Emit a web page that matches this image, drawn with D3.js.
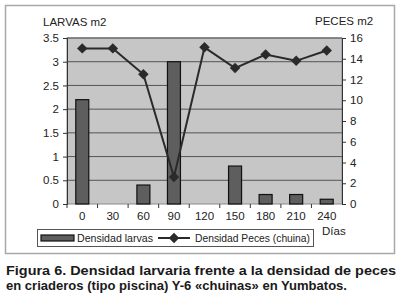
<!DOCTYPE html>
<html>
<head>
<meta charset="utf-8">
<script src="https://cdn.jsdelivr.net/npm/d3@7"></script>
<style>
  body { margin: 0; background: #fff; }
  svg { display: block; font-family: "Liberation Sans", Arial, sans-serif; }
</style>
</head>
<body>
<div id="chart"></div>
<script>
// data
const dias = ["0", "30", "60", "90", "120", "150", "180", "210", "240"];
const larvas = [2.2, 0, 0.4, 3.0, 0, 0.8, 0.2, 0.2, 0.1];
const peces = [15, 15, 12.5, 2.6, 15.1, 13.1, 14.4, 13.8, 14.8];
const leftTicks = [0, 0.5, 1, 1.5, 2, 2.5, 3, 3.5];
const rightTicks = [0, 2, 4, 6, 8, 10, 12, 14, 16];

const W = 400, H = 301;
const plot = { left: 67, right: 342, top: 38, bottom: 204 };

const svg = d3.select("#chart").append("svg")
    .attr("width", W)
    .attr("height", H);

// outer frame
svg.append("rect")
    .attr("x", 5.5).attr("y", 5.5)
    .attr("width", 389).attr("height", 248)
    .attr("fill", "#fff")
    .attr("stroke", "#a8a8a8")
    .attr("stroke-width", 1.5);

const x = d3.scaleBand()
    .domain(dias)
    .range([plot.left, plot.right]);

const yL = d3.scaleLinear().domain([0, 3.5]).range([plot.bottom, plot.top]);
const yR = d3.scaleLinear().domain([0, 16]).range([plot.bottom, plot.top]);

// plot background
svg.append("rect")
    .attr("x", plot.left).attr("y", plot.top)
    .attr("width", plot.right - plot.left)
    .attr("height", plot.bottom - plot.top)
    .attr("fill", "#c6c6c6")
    .attr("stroke", "#8a8a8a");

// grid lines
svg.append("g")
    .selectAll("line")
    .data(leftTicks.slice(1))
    .join("line")
    .attr("x1", plot.left).attr("x2", plot.right)
    .attr("y1", d => yL(d)).attr("y2", d => yL(d))
    .attr("stroke", "#555")
    .attr("stroke-width", 1);

// axes
const axL = svg.append("g")
    .attr("transform", `translate(${plot.left},0)`)
    .call(d3.axisLeft(yL).tickValues(leftTicks).tickSize(4).tickPadding(4).tickFormat(d3.format("")));
const axR = svg.append("g")
    .attr("transform", `translate(${plot.right},0)`)
    .call(d3.axisRight(yR).tickValues(rightTicks).tickSize(4).tickPadding(4));
const axB = svg.append("g")
    .attr("transform", `translate(0,${plot.bottom})`)
    .call(d3.axisBottom(x).tickSize(0).tickPadding(8));

// tick marks on the x axis between categories
svg.append("g")
    .selectAll("line")
    .data(dias)
    .join("line")
    .attr("x1", d => x(d)).attr("x2", d => x(d))
    .attr("y1", plot.bottom).attr("y2", plot.bottom + 4)
    .attr("stroke", "#333");

[axL, axR, axB].forEach(a => {
    a.selectAll("path").attr("stroke", "#333");
    a.selectAll("line").attr("stroke", "#333");
    a.selectAll("text").attr("font-size", 11.5).attr("fill", "#222");
});
axB.select(".domain").remove();

// bars
const bw = 13;
svg.append("g")
    .selectAll("rect")
    .data(larvas.map((v, i) => ({ d: dias[i], v })).filter(e => e.v > 0))
    .join("rect")
    .attr("x", e => x(e.d) + x.bandwidth() / 2 - bw / 2)
    .attr("y", e => yL(e.v))
    .attr("width", bw)
    .attr("height", e => yL(0) - yL(e.v))
    .attr("fill", "#5e5e5e")
    .attr("stroke", "#111")
    .attr("stroke-width", 1.2);

// line
const pts = peces.map((v, i) => [x(dias[i]) + x.bandwidth() / 2, yR(v)]);
svg.append("path")
    .attr("d", d3.line()(pts))
    .attr("fill", "none")
    .attr("stroke", "#2a2a2a")
    .attr("stroke-width", 2);

const diamond = d3.symbol().type(d3.symbolDiamond2).size(70);
svg.append("g")
    .selectAll("path")
    .data(pts)
    .join("path")
    .attr("transform", p => `translate(${p[0]},${p[1]})`)
    .attr("d", diamond)
    .attr("fill", "#2a2a2a");

// axis titles
svg.append("text").attr("x", 43).attr("y", 26)
    .attr("font-size", 11.5).attr("fill", "#222").text("LARVAS m2");
svg.append("text").attr("x", 315).attr("y", 25)
    .attr("font-size", 11.5).attr("fill", "#222").text("PECES m2");
svg.append("text").attr("x", 322).attr("y", 235)
    .attr("font-size", 11.5).attr("fill", "#222").text("Días");

// legend
const lg = svg.append("g");
lg.append("rect")
    .attr("x", 37.5).attr("y", 229.5)
    .attr("width", 276).attr("height", 17)
    .attr("fill", "#fff").attr("stroke", "#555");
lg.append("rect")
    .attr("x", 41).attr("y", 235).attr("width", 33).attr("height", 6)
    .attr("fill", "#5e5e5e").attr("stroke", "#111").attr("stroke-width", 1.2);
lg.append("text").attr("x", 77).attr("y", 242)
    .attr("font-size", 11).attr("fill", "#222")
    .attr("textLength", 76).attr("lengthAdjust", "spacingAndGlyphs")
    .text("Densidad larvas");
lg.append("line")
    .attr("x1", 158).attr("x2", 190).attr("y1", 238).attr("y2", 238)
    .attr("stroke", "#2a2a2a").attr("stroke-width", 2);
lg.append("path")
    .attr("transform", "translate(174,238)")
    .attr("d", diamond)
    .attr("fill", "#2a2a2a");
lg.append("text").attr("x", 195).attr("y", 242)
    .attr("font-size", 11).attr("fill", "#222")
    .attr("textLength", 115).attr("lengthAdjust", "spacingAndGlyphs")
    .text("Densidad Peces (chuina)");

// caption
svg.append("text").attr("x", 6).attr("y", 275)
    .attr("font-size", 13.5).attr("font-weight", "bold").attr("fill", "#1a1a1a")
    .attr("textLength", 390).attr("lengthAdjust", "spacingAndGlyphs")
    .text("Figura 6. Densidad larvaria frente a la densidad de peces");
svg.append("text").attr("x", 6).attr("y", 290)
    .attr("font-size", 13.5).attr("font-weight", "bold").attr("fill", "#1a1a1a")
    .attr("textLength", 341).attr("lengthAdjust", "spacingAndGlyphs")
    .text("en criaderos (tipo piscina) Y-6 «chuinas» en Yumbatos.");
</script>
</body>
</html>
